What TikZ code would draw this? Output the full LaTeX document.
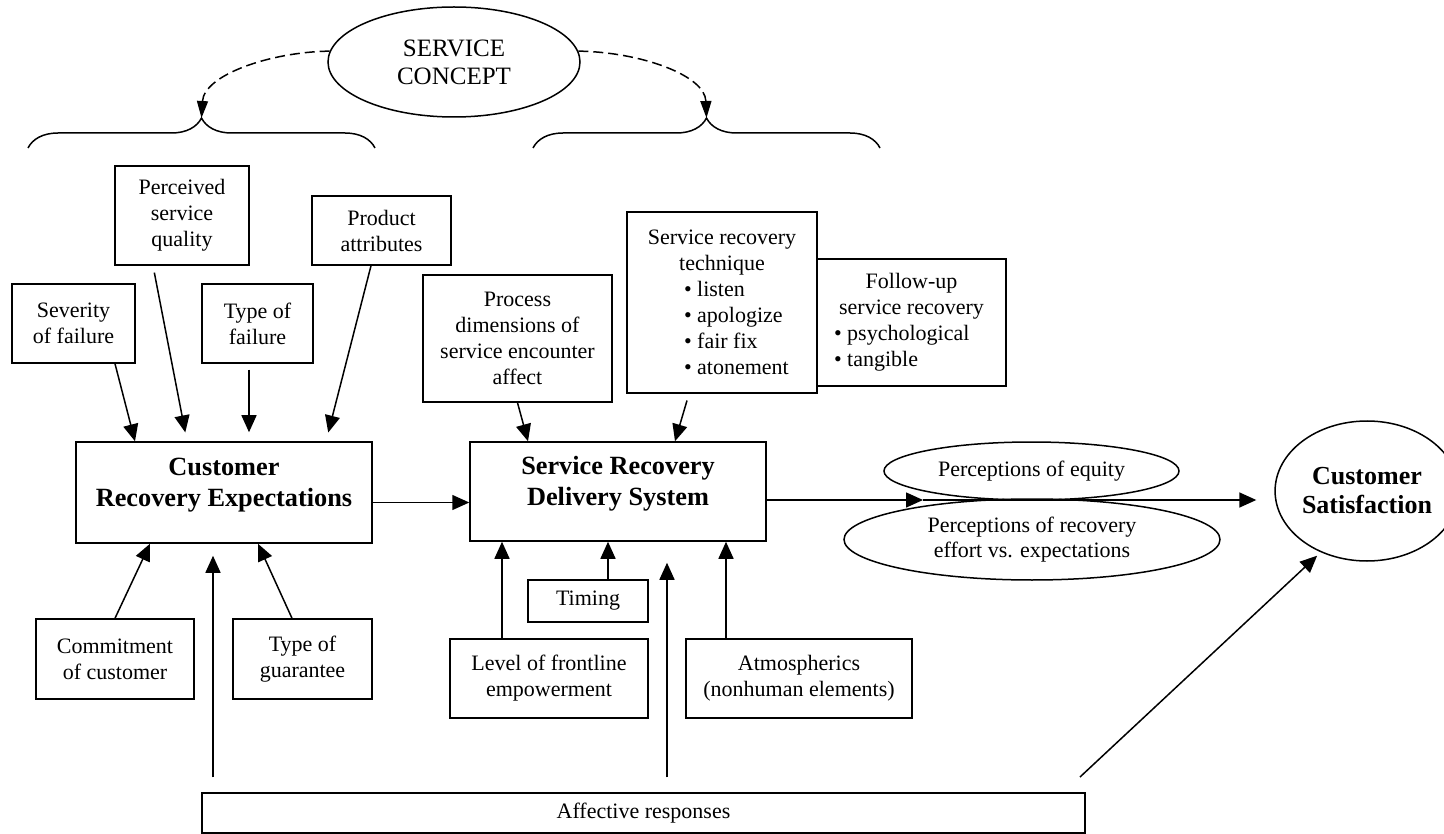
\documentclass[tikz,border=0pt]{standalone}
\usepackage{fontspec}
\setmainfont{Liberation Serif}
\usetikzlibrary{arrows.meta,shapes.geometric,decorations.pathreplacing}
\newcommand\itm[3]{\hspace*{#1}\makebox[#2][l]{\textbullet\ #3}}

\begin{document}
\begin{tikzpicture}[x=1pt,y=-1pt,line width=1.5pt,
    box/.style={draw,align=center,inner sep=2pt,font=\fontsize{22}{26}\selectfont},
    hub/.style={box,font=\fontsize{26.3}{31}\selectfont\bfseries,text depth=21pt},
    oval/.style={draw,ellipse,align=center,inner sep=0pt,font=\fontsize{22}{25}\selectfont},
    arr/.style={-{Triangle[length=17pt,width=15pt]}},
    dsh/.style={dash pattern=on 10pt off 5pt,-{Triangle[length=17pt,width=11pt]}},
    brc/.style={decorate,decoration={brace,amplitude=30pt}}]
    \useasboundingbox (0,0) rectangle (1444,834);
    \node[oval,minimum width=252pt,minimum height=110pt,font=\fontsize{25}{28}\selectfont] (sc) at (454,62) {SERVICE\\CONCEPT};
    \coordinate (lb) at (201.5,118);
    \coordinate (rb) at (706.5,118);
    \draw[brc] (28,148) -- (375,148);
    \draw[brc] (533,148) -- (880,148);
    \draw[dsh] (sc.175) .. controls (270,52) and (204,75) .. (lb);
    \draw[dsh] (sc.5) .. controls (640,52) and (705,75) .. (rb);
    \node[box,minimum width=134pt,minimum height=99pt] (pq) at (182,215.5) {Perceived\\service\\quality};
    \node[box,minimum width=139pt,minimum height=69pt] (pa) at (381.5,230.5) {Product\\attributes};
    \node[box,minimum width=123pt,minimum height=79pt] (sev) at (73.5,323.5) {Severity\\of failure};
    \node[box,minimum width=111pt,minimum height=79pt] (tf) at (257.5,323.5) {Type of\\failure};
    \node[hub,minimum width=296pt,minimum height=101pt] (cre) at (224,492.5) {Customer\\Recovery Expectations};
    \node[box,minimum width=158pt,minimum height=80pt] (cm) at (115,659) {Commitment\\of customer};
    \node[box,minimum width=139pt,minimum height=80pt] (gu) at (302.5,659) {Type of\\guarantee};
    \node[box,minimum width=189pt,minimum height=127pt] (pr) at (517.5,338.5) {Process\\dimensions of\\service encounter\\affect};
    \node[box,minimum width=190pt,minimum height=181pt] (srt) at (722,302.5) {Service recovery\\technique\\\itm{30pt}{106pt}{listen}\\\itm{30pt}{106pt}{apologize}\\\itm{30pt}{106pt}{fair fix}\\\itm{30pt}{106pt}{atonement}};
    \node[box,minimum width=189pt,minimum height=127pt] (fu) at (911.5,322.5) {Follow-up\\service recovery\\\itm{-19pt}{136pt}{psychological}\\\itm{-19pt}{136pt}{tangible}};
    \node[hub,minimum width=296pt,minimum height=99pt] (srds) at (618,491.5) {Service Recovery\\Delivery System};
    \node[box,minimum width=120pt,minimum height=42pt] (tm) at (588,601) {Timing};
    \node[box,minimum width=198pt,minimum height=79pt] (lv) at (549,678.5) {Level of frontline\\empowerment};
    \node[box,minimum width=226pt,minimum height=79pt] (atm) at (799,678.5) {Atmospherics\\(nonhuman elements)};
    \node[box,minimum width=883pt,minimum height=40pt] (af) at (643.5,813) {Affective responses};
    \node[oval,minimum width=295pt,minimum height=58pt] (eq) at (1031.5,471) {Perceptions of equity};
    \node[oval,minimum width=376pt,minimum height=81pt] (rc) at (1032,539.5) {Perceptions of recovery\\effort vs. expectations};
    \node[oval,minimum width=172pt,minimum height=140pt,font=\fontsize{26}{29}\selectfont\bfseries] (sat) at (1367,491) {Customer\\Satisfaction};
    \coordinate (pin) at (923,500);
    \coordinate (a3) at (1080,777);
    \draw[arr] (sev.south -| 115,0) -- (cre.north -| 135,0);
    \draw[arr,shorten <=7pt,shorten >=9pt] (pq.south -| 153,0) -- (cre.north -| 187,0);
    \draw[arr,shorten <=6pt,shorten >=9pt] (tf.south -| 249,0) -- (cre.north -| 249,0);
    \draw[arr,shorten >=9pt] (pa.south -| 371,0) -- (cre.north -| 326,0);
    \draw[arr] (cm.north -| 115,0) -- (cre.south -| 150,0);
    \draw[arr] (gu.north -| 292,0) -- (cre.south -| 258,0);
    \draw[arr] ([yshift=-10pt]cre.east) -- ([yshift=-10pt]cre.east -| srds.west);
    \draw[arr] (pr.south) -- (srds.north -| 528,0);
    \draw[arr,shorten <=7pt] (srt.south -| 689,0) -- (srds.north -| 675,0);
    \foreach \n/\x in {lv/502,tm/608,atm/726}
    \draw[arr] (\n.north -| \x,0) -- (srds.south -| \x,0);
    \foreach \x/\t/\s in {213/cre/12pt,667/srds/21pt}
    \draw[arr,shorten <=15pt,shorten >=\s] (af.north -| \x,0) -- (\t.south -| \x,0);
    \draw[arr] ([yshift=-8.5pt]srds.east) -- (pin);
    \draw[arr,shorten >=18pt] (pin) -- (pin -| sat.west);
    \draw[arr,shorten >=5pt] (a3) -- (sat.233);
\end{tikzpicture}
\end{document}
